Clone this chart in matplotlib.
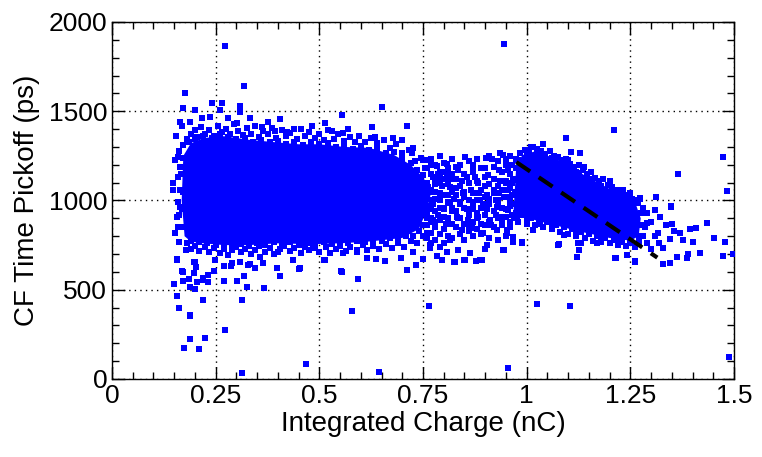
import numpy as np
import matplotlib.pyplot as plt
from matplotlib.ticker import MultipleLocator

plt.rcParams['font.family'] = ['Liberation Sans', 'DejaVu Sans']

# dense cores of the two clusters (outline)
left_core_x = [0.175, 0.168, 0.172, 0.19, 0.22, 0.27, 0.33, 0.40, 0.45, 0.50, 0.56, 0.62,
               0.68, 0.72, 0.75, 0.77, 0.76, 0.74, 0.70, 0.62, 0.55, 0.48, 0.40, 0.33,
               0.27, 0.22, 0.19]
left_core_y = [800, 1000, 1250, 1320, 1350, 1360, 1340, 1325, 1315, 1315, 1300, 1295,
               1255, 1200, 1130, 1050, 950, 840, 790, 770, 760, 755, 760, 750,
               750, 760, 770]
right_core_x = [0.968, 0.975, 0.99, 1.02, 1.07, 1.10, 1.14, 1.20, 1.26, 1.275, 1.27,
                1.25, 1.20, 1.14, 1.07, 1.02]
right_core_y = [930, 1200, 1255, 1275, 1235, 1200, 1140, 1065, 1000, 900, 800,
                775, 790, 820, 860, 890]

# isolated events and the sparse tails
charge_nC = [
    0.272, 0.318, 0.176, 0.945, 0.651, 0.555, 1.211, 1.473, 1.365, 1.483, 1.497, 1.487,
    1.478, 1.473, 1.452, 1.435, 1.025, 1.104, 0.764, 0.579, 0.644, 0.955, 0.313, 0.468,
    0.272, 0.174, 0.188, 0.210, 0.224, 0.188, 0.188, 0.162, 0.157, 0.219, 0.313, 0.150,
    0.200, 0.326, 0.367, 0.157, 0.169, 0.171, 0.186, 0.205, 0.198, 0.219, 0.231, 0.246,
    0.270, 0.301, 0.318, 0.270, 0.287, 0.328, 0.345, 0.364, 0.398, 0.405, 0.451, 0.511,
    0.552, 0.593, 0.591, 0.436, 0.198, 0.203, 0.178,
    0.711, 0.733, 0.750, 0.615, 0.637, 0.658, 0.697, 0.825, 0.849, 0.878, 0.892, 0.796,
    0.784, 0.863, 0.899, 0.945, 0.989, 1.078, 1.121, 1.126, 1.131, 1.170, 0.834, 0.808,
    0.767, 0.726,
    1.329, 1.346, 1.363, 1.387, 1.389, 1.418, 1.401, 1.377, 1.370, 1.346, 1.329, 1.355,
    1.394, 1.408, 1.317, 1.336, 1.350, 1.321, 1.309, 1.348, 1.312, 1.268, 1.290, 1.261,
    1.213, 1.249, 1.264, 1.230, 1.273,
    1.095, 1.039, 1.010, 1.107, 1.129, 1.100, 1.138, 1.126, 1.201, 1.232, 1.348, 1.273,
    1.015, 1.075, 1.090, 1.124, 1.126, 1.121, 1.215, 1.261, 1.242, 1.032,
    0.936, 0.945, 0.967, 0.952,
    0.241, 0.265, 0.309, 0.171, 0.200, 0.260, 0.309, 0.333, 0.164, 0.188, 0.236, 0.280,
    0.217, 0.405, 0.376, 0.514, 0.439, 0.482, 0.530, 0.154, 0.169, 0.301, 0.362, 0.393,
    0.422, 0.557, 0.159, 0.152, 0.147, 0.147, 0.164, 0.157, 0.152, 0.162, 0.157, 0.171,
    0.200, 0.219, 0.248, 0.289, 0.309, 0.333, 0.357, 0.400, 0.453, 0.485, 0.514, 0.557,
    0.555, 0.188, 0.231,
    0.627, 0.711, 0.678, 0.699, 0.726, 0.634, 0.557, 0.574, 0.750, 0.723,
]
pickoff_ps = [
    1866, 1641, 1602, 1877, 1524, 1479, 1395, 1243, 1148, 1053, 700, 123,
    767, 689, 790, 874, 420, 409, 409, 381, 39, 62, 34, 84,
    275, 174, 224, 168, 230, 359, 353, 398, 465, 443, 443, 532,
    504, 515, 510, 672, 605, 549, 560, 543, 594, 566, 583, 605,
    549, 549, 577, 633, 633, 639, 622, 650, 622, 577, 616, 667,
    605, 560, 711, 667, 655, 627, 723,
    611, 639, 672, 678, 672, 661, 678, 655, 667, 661, 667, 667,
    689, 706, 728, 723, 762, 756, 683, 723, 762, 762, 723, 711,
    734, 711,
    644, 650, 683, 678, 700, 706, 767, 779, 818, 784, 734, 829,
    840, 846, 818, 863, 868, 908, 947, 969, 1020, 986, 874, 661,
    678, 1042, 992, 1059, 1014,
    1350, 1317, 1300, 1272, 1266, 1227, 1188, 1154, 1109, 1059, 964, 1008,
    835, 751, 807, 762, 723, 683, 678, 655, 695, 868,
    1266, 723, 767, 818,
    1546, 1546, 1529, 1518, 1507, 1507, 1496, 1462, 1440, 1440, 1468, 1462,
    1462, 1457, 1440, 1434, 1401, 1417, 1389, 1361, 1417, 1434, 1412, 1389,
    1384, 1378, 1244, 1227, 1098, 1059, 964, 908, 818, 767, 667, 599,
    655, 555, 667, 650, 655, 644, 683, 711, 622, 740, 667, 706,
    599, 515, 543,
    1412, 1417, 1350, 1339, 1294, 1356, 1378, 1356, 1227, 1266,
]

# ragged rim of the low-charge cluster
left_rim_x = [
    0.180, 0.190, 0.200, 0.205, 0.215, 0.225, 0.235, 0.245, 0.255, 0.265, 0.275, 0.285,
    0.295, 0.305, 0.315, 0.325, 0.335, 0.345, 0.355, 0.365, 0.375, 0.385, 0.395, 0.410,
    0.420, 0.430, 0.445, 0.455, 0.465, 0.475, 0.490, 0.500, 0.510, 0.520, 0.535, 0.545,
    0.560, 0.570, 0.585, 0.595, 0.610, 0.625, 0.640, 0.655, 0.670, 0.685, 0.700, 0.715,
    0.730, 0.745, 0.755, 0.770, 0.775, 0.785,
    0.180, 0.190, 0.200, 0.210, 0.225, 0.235, 0.245, 0.260, 0.270, 0.280, 0.290, 0.300,
    0.310, 0.320, 0.335, 0.345, 0.355, 0.370, 0.380, 0.390, 0.405, 0.415, 0.430, 0.440,
    0.455, 0.465, 0.475, 0.490, 0.500, 0.515, 0.525, 0.540, 0.550, 0.565, 0.575, 0.590,
    0.605, 0.615, 0.630, 0.645, 0.660, 0.675, 0.690, 0.705, 0.720, 0.735, 0.750, 0.765,
    0.160, 0.162, 0.158, 0.163, 0.160, 0.165, 0.162, 0.170,
    0.185, 0.200, 0.220, 0.240, 0.260, 0.280, 0.300, 0.320, 0.340, 0.360, 0.380, 0.400,
    0.420, 0.440, 0.460, 0.480, 0.500, 0.520, 0.540, 0.560, 0.580, 0.600, 0.620, 0.640,
    0.660, 0.680, 0.700, 0.720, 0.735, 0.750, 0.760, 0.770, 0.772, 0.765, 0.760, 0.750,
    0.740, 0.725,
    0.190, 0.210, 0.230, 0.250, 0.270, 0.290, 0.310, 0.330, 0.350, 0.370, 0.390, 0.410,
    0.430, 0.450, 0.470, 0.490, 0.510, 0.530, 0.550, 0.570, 0.590, 0.610, 0.630, 0.650,
    0.670, 0.690, 0.710,
    0.172, 0.168, 0.170, 0.166, 0.172,
]
left_rim_y = [
    1345, 1370, 1395, 1355, 1410, 1375, 1395, 1360, 1420, 1385, 1400, 1370,
    1430, 1390, 1365, 1405, 1375, 1420, 1355, 1390, 1370, 1405, 1350, 1395,
    1360, 1380, 1345, 1400, 1360, 1385, 1350, 1375, 1340, 1395, 1345, 1370,
    1335, 1400, 1330, 1360, 1330, 1350, 1320, 1340, 1295, 1315, 1265, 1285,
    1220, 1240, 1180, 1200, 1130, 1150,
    760, 730, 745, 715, 740, 710, 735, 705, 730, 695, 725, 740,
    710, 730, 700, 725, 745, 710, 735, 700, 730, 745, 715, 735,
    705, 740, 720, 735, 710, 740, 705, 730, 745, 715, 740, 725,
    750, 720, 745, 730, 755, 735, 760, 740, 775, 760, 800, 820,
    850, 920, 990, 1060, 1130, 1190, 1280, 1310,
    1325, 1345, 1360, 1350, 1370, 1355, 1345, 1350, 1330, 1340, 1325, 1335,
    1315, 1330, 1310, 1325, 1315, 1320, 1300, 1310, 1290, 1305, 1285, 1295,
    1265, 1270, 1230, 1210, 1170, 1140, 1090, 1050, 1000, 950, 900, 860,
    830, 800,
    775, 765, 760, 750, 760, 745, 755, 745, 760, 750, 765, 755,
    765, 750, 760, 750, 765, 755, 765, 760, 775, 765, 780, 775,
    790, 790, 800,
    850, 950, 1050, 1150, 1240,
]

# gap region between the clusters
mid_x = [
    0.851, 0.902, 0.916, 0.943, 0.764, 0.784, 0.808, 0.856, 0.883, 0.907, 0.933, 0.955,
    0.967, 0.933, 0.904, 0.887, 0.928, 0.955, 0.977, 0.936, 0.912, 0.883, 0.858, 0.832,
    0.815, 0.791, 0.846, 0.952, 0.928, 0.895, 0.868, 0.844, 0.967, 0.989, 0.904, 0.943,
    0.815, 0.791, 0.767, 0.887, 0.851, 0.827, 0.760, 0.774, 0.755, 0.762, 0.791, 0.815,
    0.808, 0.834, 0.871, 0.800, 0.780, 0.820, 0.870, 0.900, 0.925, 0.950, 0.860, 0.790,
    0.775, 0.780, 0.785, 0.790, 0.795, 0.800, 0.805, 0.810, 0.815, 0.820, 0.825, 0.830,
    0.835, 0.840, 0.845, 0.850, 0.855, 0.860, 0.865, 0.870, 0.875, 0.880, 0.885, 0.890,
    0.895, 0.900, 0.905, 0.910, 0.915, 0.920, 0.925, 0.930, 0.935, 0.940, 0.945, 0.950,
    0.955, 0.960, 0.960, 0.965, 0.770, 0.780, 0.800, 0.830, 0.870, 0.900, 0.950,
    0.76, 0.76, 0.76, 0.76, 0.76, 0.76, 0.77, 0.77, 0.77, 0.77, 0.77, 0.77, 0.77,
    0.78, 0.78, 0.78, 0.78, 0.78, 0.78, 0.79, 0.79, 0.79, 0.79, 0.79, 0.79,
    0.80, 0.80, 0.80, 0.80, 0.80, 0.80, 0.81, 0.81, 0.81, 0.81, 0.81,
    0.82, 0.82, 0.82, 0.82, 0.82, 0.82, 0.83, 0.83, 0.83, 0.83,
    0.84, 0.84, 0.84, 0.84, 0.84, 0.85, 0.85, 0.85, 0.85, 0.85,
    0.86, 0.86, 0.86, 0.86, 0.86, 0.87, 0.87, 0.87, 0.87, 0.87,
    0.88, 0.88, 0.88, 0.88, 0.88, 0.89, 0.89, 0.89, 0.89,
    0.90, 0.90, 0.90, 0.90, 0.91, 0.91, 0.91, 0.91, 0.91,
    0.92, 0.92, 0.92, 0.92, 0.92, 0.93, 0.93, 0.93, 0.93, 0.93,
    0.94, 0.94, 0.94, 0.94, 0.95, 0.95, 0.95, 0.95, 0.95,
    0.96, 0.96, 0.96, 0.96, 0.96, 0.965, 0.965, 0.965,
]
mid_y = [
    1244, 1238, 1232, 1255, 1227, 1193, 1204, 1132, 1098, 1143, 1171, 1171,
    1115, 1042, 1031, 1003, 964, 947, 908, 908, 891, 908, 891, 908,
    986, 1020, 1042, 835, 835, 818, 846, 835, 796, 767, 751, 723,
    779, 740, 751, 667, 667, 655, 818, 891, 964, 1076, 1098, 1076,
    1154, 1171, 1188, 950, 880, 1050, 980, 1080, 1000, 1100, 930, 1130,
    980, 1050, 920, 1000, 1080, 960, 870, 1030, 1120, 940, 1010, 1070,
    900, 980, 1110, 1020, 950, 860, 1060, 990, 1130, 930, 1040, 870,
    980, 1080, 950, 1010, 860, 1060, 920, 990, 1110, 880, 1020, 950,
    1060, 880, 1000, 1200, 880, 1120, 1160, 1190, 1200, 1180, 1230,
    1180, 1100, 1010, 930, 860, 790, 1230, 1150, 1060, 970, 900, 820, 760,
    1200, 1090, 1010, 940, 850, 780, 1250, 1160, 1040, 960, 890, 810,
    1210, 1120, 1030, 910, 840, 760, 1180, 1090, 990, 900, 800,
    1230, 1150, 1060, 960, 870, 790, 1120, 1030, 940, 850,
    1200, 1080, 990, 900, 810, 1150, 1050, 960, 870, 780,
    1220, 1100, 1000, 920, 830, 1160, 1040, 950, 880, 800,
    1230, 1110, 1000, 900, 840, 1180, 1060, 960, 810,
    1130, 1020, 920, 860, 1250, 1090, 980, 880, 790,
    1190, 1120, 1040, 940, 850, 1220, 1080, 1000, 900, 780,
    1160, 1060, 960, 860, 1200, 1110, 1020, 910, 800,
    1250, 1150, 1070, 970, 850, 1100, 1030, 920,
]

# ragged rim of the high-charge cluster
right_rim_x = [
    0.975, 0.985, 0.995, 1.005, 1.015, 1.025, 1.035, 1.045, 1.055, 1.065, 1.075, 1.085,
    1.095, 1.105, 1.115, 1.125, 1.135, 1.145, 1.155, 1.165, 1.175, 1.185, 1.195, 1.205,
    1.215, 1.225, 1.235, 1.245, 1.255, 1.265, 1.280, 1.290,
    0.970, 0.980, 0.990, 1.000, 1.010, 1.020, 1.030, 1.040, 1.050, 1.060, 1.070, 1.080,
    1.090, 1.100, 1.110, 1.120, 1.130, 1.140, 1.150, 1.160, 1.170, 1.180, 1.190, 1.200,
    1.210, 1.220, 1.230, 1.240, 1.250, 1.260, 1.270, 1.280, 1.290, 1.300, 1.285, 1.300,
    1.310, 1.320,
    0.98, 1.00, 1.03, 1.06, 1.09, 1.12, 1.15, 1.18, 1.21, 1.24, 1.265, 1.275,
    0.975, 1.00, 1.03, 1.06, 1.09, 1.12, 1.15, 1.18, 1.22, 1.25, 1.27, 1.275,
    0.97, 0.972, 0.97, 0.975,
]
right_rim_y = [
    1230, 1265, 1285, 1270, 1300, 1290, 1275, 1260, 1280, 1250, 1245, 1225,
    1235, 1205, 1190, 1200, 1170, 1150, 1160, 1125, 1110, 1120, 1085, 1075,
    1060, 1045, 1030, 1025, 1010, 1000, 960, 930,
    900, 880, 920, 870, 900, 860, 895, 850, 880, 840, 865, 825,
    855, 815, 840, 800, 825, 790, 810, 775, 800, 765, 790, 760,
    780, 750, 770, 745, 760, 740, 770, 800, 760, 730, 850, 880,
    800, 760,
    1225, 1265, 1265, 1240, 1205, 1160, 1120, 1080, 1050, 1020, 990, 930,
    930, 900, 885, 865, 850, 830, 815, 800, 785, 775, 800, 860,
    980, 1050, 1120, 1180,
]

# dashed trend line over the high-charge cluster
fit_x = [0.975, 1.315]
fit_y = [1215, 680]

blue = '#0000FF'

fig = plt.figure(figsize=(7.62, 4.57), dpi=100)
ax = fig.add_axes([0.147, 0.1707, 0.8163, 0.7812])

ax.fill(left_core_x, left_core_y, color=blue, lw=0, zorder=2)
ax.fill(right_core_x, right_core_y, color=blue, lw=0, zorder=2)
for xs, ys in [(charge_nC, pickoff_ps), (left_rim_x, left_rim_y),
               (mid_x, mid_y), (right_rim_x, right_rim_y)]:
    ax.plot(xs, ys, 's', color=blue, ms=4.2, mew=0, zorder=3)
ax.plot(fit_x, fit_y, color='black', lw=3, dashes=(4, 2.5), zorder=4)

ax.set_xlim(0, 1.5)
ax.set_ylim(0, 2000)
ax.set_xticks([0, 0.25, 0.5, 0.75, 1, 1.25, 1.5])
ax.set_xticklabels(['0', '0.25', '0.5', '0.75', '1', '1.25', '1.5'])
ax.xaxis.set_minor_locator(MultipleLocator(0.05))
ax.yaxis.set_major_locator(MultipleLocator(500))
ax.yaxis.set_minor_locator(MultipleLocator(100))

ax.tick_params(which='both', direction='in', top=True, right=True, labelsize=19,
               color='black', width=1)
ax.tick_params(which='major', length=9)
ax.tick_params(which='minor', length=5)
ax.grid(True, which='major', color='black', linestyle=(0, (1, 3)), lw=1)
for s in ax.spines.values():
    s.set_linewidth(1)

ax.set_xlabel('Integrated Charge (nC)', fontsize=20, labelpad=2)
ax.set_ylabel('CF Time Pickoff (ps)', fontsize=20, labelpad=6)

fig.savefig('out.png', dpi=100)
